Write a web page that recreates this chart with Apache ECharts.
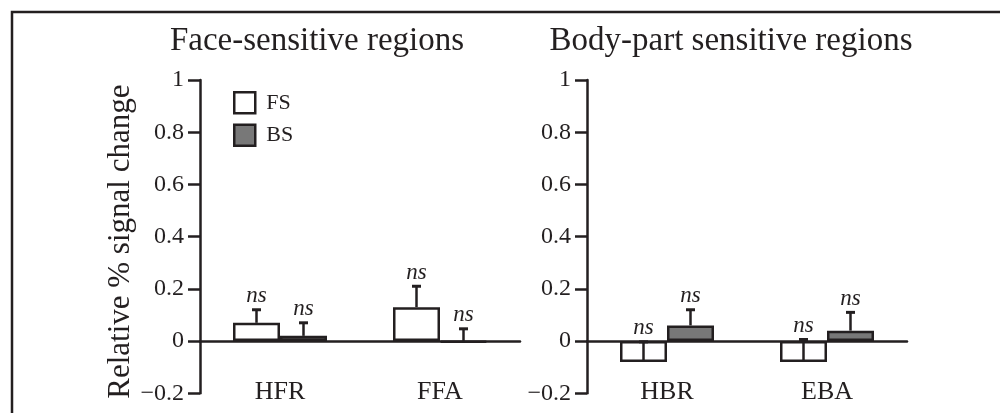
<!DOCTYPE html>
<html>
<head>
<meta charset="utf-8">
<script src="https://cdn.jsdelivr.net/npm/echarts@6/dist/echarts.min.js"></script>
<style>
  html, body { margin: 0; padding: 0; background: #fff; }
  #chart { width: 1000px; height: 413px; }
</style>
</head>
<body>
<div id="chart"></div>
<script>
// categories
const faceCats = ['HFR', 'FFA']
const bodyCats = ['HBR', 'EBA']
const seriesNames = ['FS', 'BS']
const titles = ['Face-sensitive regions', 'Body-part sensitive regions']
const yAxisName = 'Relative % signal change'

// bar means and error (upper whisker length)
const faceFS = [0.07, 0.13]
const faceFSErr = [0.05, 0.08]
const faceBS = [0.02, -0.005]
const faceBSErr = [0.05, 0.052]
const bodyFS = [-0.08, -0.08]
const bodyFSErr = [0.077, 0.086]
const bodyBS = [0.06, 0.04]
const bodyBSErr = [0.06, 0.07]
const sigLabel = 'ns'

// y ticks
const yMin = -0.2
const yMax = 1
const yStep = 0.2

const ink = '#231f20'
const gray = '#787878'
const serif = '"Liberation Serif", "DejaVu Serif", serif'
const barW = 47

let chart = echarts.init(document.getElementById('chart'))

function yAxisOf(gridIndex, withName) {
    return {
        type: 'value',
        gridIndex: gridIndex,
        min: yMin,
        max: yMax,
        interval: yStep,
        name: withName ? yAxisName : '',
        nameLocation: 'middle',
        nameGap: 62,
        nameRotate: 90,
        nameTextStyle: {
            fontFamily: serif,
            fontSize: 31,
            color: ink,
            padding: [0, 10, 0, 0]
        },
        axisLine: {
            show: true,
            lineStyle: { color: ink, width: 2.5 }
        },
        axisTick: {
            show: true,
            inside: false,
            length: 12,
            lineStyle: { color: ink, width: 2.5 }
        },
        axisLabel: {
            margin: 16,
            fontFamily: serif,
            fontSize: 24,
            color: ink,
            formatter: function (v) {
                let s = String(parseFloat(v.toFixed(2)))
                return v < 0 ? '\u2212' + s.slice(1) : s
            }
        },
        splitLine: { show: false }
    }
}

function xAxisOf(gridIndex, cats) {
    return {
        type: 'category',
        gridIndex: gridIndex,
        data: cats,
        axisLine: {
            show: true,
            onZero: true,
            lineStyle: { color: ink, width: 2.5 }
        },
        axisTick: { show: false },
        axisLabel: {
            margin: -14,
            fontFamily: serif,
            fontSize: 26,
            color: ink
        }
    }
}

function barSeries(name, idx, values, fill) {
    return {
        type: 'bar',
        name: name,
        xAxisIndex: idx,
        yAxisIndex: idx,
        barWidth: barW,
        barGap: '0%',
        data: values,
        itemStyle: {
            color: fill,
            borderColor: ink,
            borderWidth: 2.5
        },
        z: 2
    }
}

function errSeries(idx, values, errs, side) {
    return {
        type: 'custom',
        xAxisIndex: idx,
        yAxisIndex: idx,
        data: values.map((v, i) => [i, v, errs[i]]),
        encode: { x: 0, y: 1 },
        z: 4,
        renderItem: function (params, api) {
            let i = api.value(0)
            let m = api.value(1)
            let e = api.value(2)
            let base = api.coord([i, m])
            let top = api.coord([i, m + e])
            let x = base[0] + side * barW / 2
            return {
                type: 'group',
                children: [
                    {
                        type: 'line',
                        shape: { x1: x, y1: base[1], x2: x, y2: top[1] },
                        style: { stroke: ink, lineWidth: 2.5 }
                    },
                    {
                        type: 'line',
                        shape: { x1: x - 4.5, y1: top[1], x2: x + 4.5, y2: top[1] },
                        style: { stroke: ink, lineWidth: 3 }
                    },
                    {
                        type: 'text',
                        x: x,
                        y: top[1] - 2,
                        style: {
                            text: sigLabel,
                            fill: ink,
                            font: 'italic 23px ' + serif,
                            textAlign: 'center',
                            textVerticalAlign: 'bottom'
                        }
                    }
                ]
            }
        }
    }
}

chart.setOption({
    animation: false,
    title: [
        {
            text: titles[0],
            left: 312,
            top: 20,
            textAlign: 'center',
            textStyle: { fontFamily: serif, fontSize: 33, fontWeight: 'normal', color: ink }
        },
        {
            text: titles[1],
            left: 726,
            top: 20,
            textAlign: 'center',
            textStyle: { fontFamily: serif, fontSize: 33, fontWeight: 'normal', color: ink }
        }
    ],
    legend: {
        orient: 'vertical',
        left: 228,
        top: 86,
        itemWidth: 21,
        itemHeight: 21,
        itemGap: 9,
        icon: 'rect',
        textStyle: {
            fontFamily: serif,
            fontSize: 22,
            color: ink,
            padding: [0, 0, 0, 6]
        },
        data: [
            { name: seriesNames[0], itemStyle: { color: '#ffffff', borderColor: ink, borderWidth: 2.5 } },
            { name: seriesNames[1], itemStyle: { color: gray, borderColor: ink, borderWidth: 2.5 } }
        ]
    },
    grid: [
        { left: 200, top: 80, width: 320, height: 313.3, outerBoundsMode: 'none', containLabel: false },
        { left: 587, top: 80, width: 320, height: 313.3, outerBoundsMode: 'none', containLabel: false }
    ],
    xAxis: [xAxisOf(0, faceCats), xAxisOf(1, bodyCats)],
    yAxis: [yAxisOf(0, true), yAxisOf(1, false)],
    graphic: [
        {
            type: 'rect',
            shape: { x: 12, y: 12, width: 1000, height: 430 },
            style: { fill: 'none', stroke: ink, lineWidth: 2.5 },
            silent: true
        }
    ],
    series: [
        barSeries(seriesNames[0], 0, faceFS, '#ffffff'),
        barSeries(seriesNames[1], 0, faceBS, gray),
        barSeries(seriesNames[0], 1, bodyFS, '#ffffff'),
        barSeries(seriesNames[1], 1, bodyBS, gray),
        errSeries(0, faceFS, faceFSErr, -1),
        errSeries(0, faceBS, faceBSErr, 1),
        errSeries(1, bodyFS, bodyFSErr, -1),
        errSeries(1, bodyBS, bodyBSErr, 1)
    ]
})
</script>
</body>
</html>
